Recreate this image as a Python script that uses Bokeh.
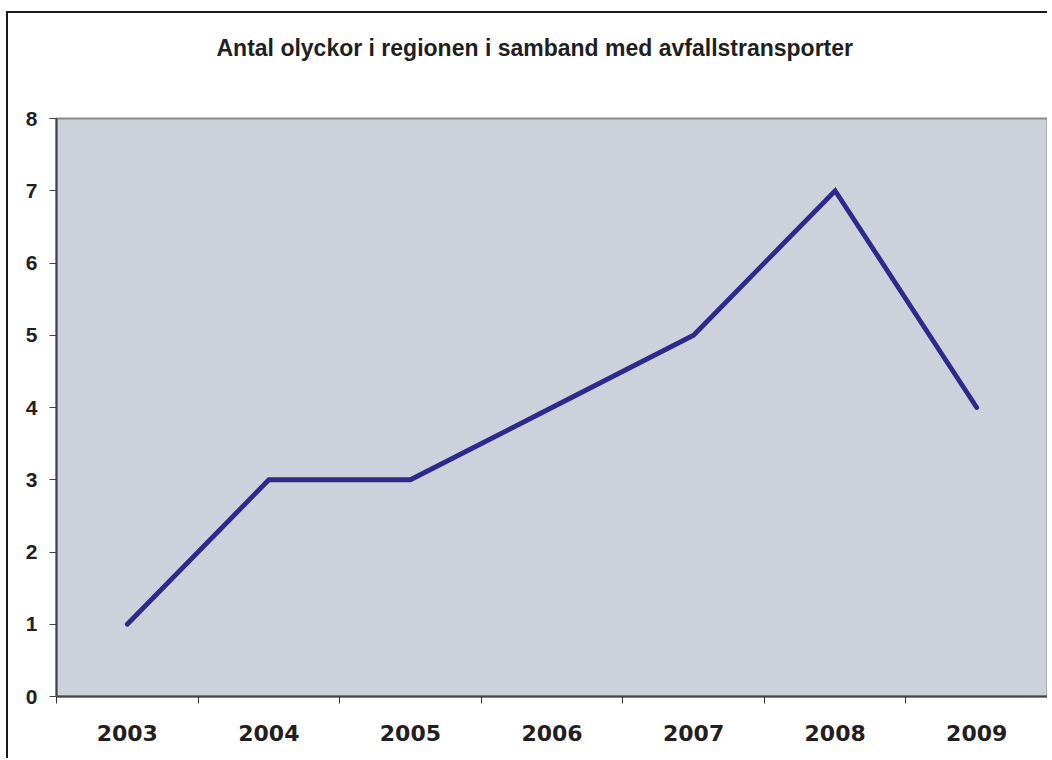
from bokeh.plotting import figure
from bokeh.models import FixedTicker, Range1d, Title
from bokeh.embed import file_html
from bokeh.resources import INLINE

title_text = "Antal olyckor i regionen i samband med avfallstransporter"
years = ["2003", "2004", "2005", "2006", "2007", "2008", "2009"]
olyckor = [1, 3, 3, 4, 5, 7, 4]
y_ticks = [0, 1, 2, 3, 4, 5, 6, 7, 8]

xs = [i + 0.5 for i in range(len(years))]

p = figure(width=1041, height=747, output_backend="svg", toolbar_location=None,
           title=None,
           x_range=Range1d(0, len(years)), y_range=Range1d(0, 8),
           min_border_left=48, min_border_top=105, min_border_right=2, min_border_bottom=64)
p.styles = {"border-left": "2px solid #1a1a1a", "border-top": "2px solid #1a1a1a",
            "margin-top": "11px", "margin-left": "6px"}

# spacer between the title and the plotting area (nearest the frame)
p.add_layout(Title(text=" ", text_font_size="10px", standoff=45), "above")
# chart title
p.add_layout(Title(text=title_text, align="left", offset=160, standoff=0,
                   text_font="Liberation Sans", text_font_size="23px",
                   text_font_style="bold", text_color="#1f1f1f"), "above")

p.background_fill_color = "#CDD1DC"
p.border_fill_color = "white"
p.outline_line_color = "#8a8a8a"
p.outline_line_width = 2
p.xgrid.visible = False
p.ygrid.visible = False

p.line(xs, olyckor, line_color="#2D2A8C", line_width=4.8, line_join="miter", line_cap="round")

# x axis: labels at category centres, ticks at boundaries
p.xaxis.ticker = FixedTicker(ticks=xs, minor_ticks=list(range(len(years) + 1)))
p.xaxis.major_label_overrides = {x: y for x, y in zip(xs, years)}
p.xaxis.major_tick_out = 0
p.xaxis.major_tick_in = 0
p.xaxis.minor_tick_out = 7
p.xaxis.minor_tick_in = 0
p.xaxis.minor_tick_line_color = "#333333"
p.xaxis.axis_line_color = "#444444"
p.xaxis.axis_line_width = 2
p.xaxis.major_label_text_font = "DejaVu Sans"
p.xaxis.major_label_text_font_style = "bold"
p.xaxis.major_label_text_font_size = "22px"
p.xaxis.major_label_text_color = "#231f20"
p.xaxis.major_label_standoff = 21

p.yaxis.ticker = FixedTicker(ticks=y_ticks, minor_ticks=[])
p.yaxis.major_tick_out = 7
p.yaxis.major_tick_in = 0
p.yaxis.major_tick_line_color = "#444444"
p.yaxis.axis_line_color = "#444444"
p.yaxis.axis_line_width = 2
p.yaxis.major_label_text_font = "Liberation Sans"
p.yaxis.major_label_text_font_style = "bold"
p.yaxis.major_label_text_font_size = "21px"
p.yaxis.major_label_text_color = "#231f20"
p.yaxis.major_label_standoff = 12

open("out.html", "w").write(file_html(p, INLINE))
